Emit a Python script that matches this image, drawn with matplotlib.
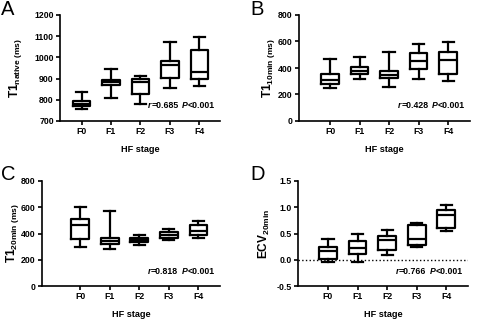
import matplotlib
matplotlib.use('Agg')
from matplotlib import pyplot as plt
from matplotlib import ticker
from matplotlib import transforms

plt.rcParams['font.family'] = ['Liberation Sans', 'DejaVu Sans']
plt.rcParams['mathtext.fontset'] = 'custom'
plt.rcParams['mathtext.rm'] = 'Liberation Sans'
plt.rcParams['mathtext.bf'] = 'Liberation Sans:bold'
plt.rcParams['mathtext.it'] = 'Liberation Sans:italic'

stages = ['F0', 'F1', 'F2', 'F3', 'F4']

# box stats per stage: low whisker, q1, median, q3, high whisker
t1_native_lo = [757, 810, 782, 856, 867]
t1_native_q1 = [769, 869, 829, 905, 896]
t1_native_med = [782, 884, 884, 963, 932]
t1_native_q3 = [795, 892, 897, 984, 1037]
t1_native_hi = [835, 944, 911, 1072, 1094]

t1_10min_lo = [250, 316, 260, 316, 303]
t1_10min_q1 = [283, 358, 321, 394, 353]
t1_10min_med = [308, 379, 346, 452, 459]
t1_10min_q3 = [353, 409, 379, 510, 520]
t1_10min_hi = [467, 485, 517, 583, 593]

t1_20min_lo = [300, 280, 312, 352, 367]
t1_20min_q1 = [358, 318, 333, 362, 387]
t1_20min_med = [465, 343, 350, 392, 420]
t1_20min_q3 = [510, 363, 368, 413, 463]
t1_20min_hi = [600, 574, 389, 438, 494]

ecv_lo = [-0.05, -0.05, 0.095, 0.247, 0.544]
ecv_q1 = [0.013, 0.101, 0.190, 0.278, 0.614]
ecv_med = [0.165, 0.222, 0.367, 0.399, 0.848]
ecv_q3 = [0.234, 0.361, 0.443, 0.671, 0.943]
ecv_hi = [0.392, 0.481, 0.576, 0.709, 1.038]

r_values = ['0.685', '0.428', '0.818', '0.766']
p_text = '<0.001'

W, H = 496, 325
fig = plt.figure(figsize=(W / 100, H / 100), dpi=100)


def make_stats(lo, q1, med, q3, hi):
    stats = []
    for i in range(len(stages)):
        stats.append({'whislo': lo[i], 'q1': q1[i], 'med': med[i],
                      'q3': q3[i], 'whishi': hi[i], 'fliers': [],
                      'label': stages[i]})
    return stats


# (left, right, top, bottom) in pixels, xlim, ylim, ticks, label, label x, data, r
panels = [
    ((60, 220, 15, 121), (-0.73, 4.7), (700, 1200), range(700, 1201, 100),
     r'$\mathbf{T1_{native\ (ms)}}$', 24,
     make_stats(t1_native_lo, t1_native_q1, t1_native_med, t1_native_q3, t1_native_hi),
     r_values[0], 'A', (1, 0)),
    ((299, 470, 15, 121), (-1.05, 4.74), (0, 800), range(0, 801, 200),
     r'$\mathbf{T1_{10min\ (ms)}}$', 277,
     make_stats(t1_10min_lo, t1_10min_q1, t1_10min_med, t1_10min_q3, t1_10min_hi),
     r_values[1], 'B', (250, 0)),
    ((42, 220, 181, 286), (-1.29, 4.73), (0, 800), range(0, 801, 200),
     r'$\mathbf{T1_{20min\ (ms)}}$', 21,
     make_stats(t1_20min_lo, t1_20min_q1, t1_20min_med, t1_20min_q3, t1_20min_hi),
     r_values[2], 'C', (1, 165)),
    ((298, 468, 181, 286), (-1.01, 4.73), (-0.5, 1.5), [-0.5, 0.0, 0.5, 1.0, 1.5],
     r'$\mathbf{ECV_{20min}}$', 272,
     make_stats(ecv_lo, ecv_q1, ecv_med, ecv_q3, ecv_hi),
     r_values[3], 'D', (250, 165)),
]

lw = 1.6
for box, xlim, ylim, yticks, ylabel, label_x, stats, r, letter, letter_pos in panels:
    left, right, top, bottom = box
    ax = fig.add_axes([left / W, 1 - bottom / H, (right - left) / W, (bottom - top) / H])

    ax.bxp(stats, positions=range(len(stages)), widths=0.6, capwidths=0.38,
           showfliers=False,
           boxprops=dict(color='black', linewidth=lw),
           whiskerprops=dict(color='black', linewidth=lw),
           capprops=dict(color='black', linewidth=lw),
           medianprops=dict(color='black', linewidth=lw))

    if letter == 'D':
        ax.axhline(0, color='black', linestyle=':', linewidth=1.0, zorder=0)

    ax.set_xlim(xlim)
    ax.set_ylim(ylim)
    ax.set_yticks(list(yticks))
    if letter == 'D':
        ax.yaxis.set_major_formatter(ticker.FormatStrFormatter('%.1f'))
    ax.set_xticks(range(len(stages)), labels=stages)

    for side in ['top', 'right']:
        ax.spines[side].set_visible(False)
    for side in ['left', 'bottom']:
        ax.spines[side].set_linewidth(1.2)
    ax.tick_params(direction='out', length=3, width=1.2, labelsize=6.3, pad=1.5)
    for lab in ax.get_xticklabels() + ax.get_yticklabels():
        lab.set_fontweight('bold')

    ax.set_xlabel('HF stage', fontsize=6.6, fontweight='bold', labelpad=6)
    ax.set_ylabel(ylabel, fontsize=8.6)
    ax.yaxis.set_label_coords(label_x / W, 0.5,
                              transform=transforms.blended_transform_factory(fig.transFigure, ax.transAxes))

    # r=... P<0.001, built right to left
    t4 = ax.text(0.97, 0.1, p_text, transform=ax.transAxes, ha='right', va='bottom',
                 fontsize=6.3, fontweight='bold')
    t3 = ax.annotate('P', xy=(0, 0), xycoords=t4, ha='right', va='bottom',
                     fontsize=6.3, fontweight='bold', fontstyle='italic')
    t2 = ax.annotate('=' + r, xy=(0, 0), xycoords=t3, xytext=(-2.5, 0),
                     textcoords='offset points', ha='right', va='bottom',
                     fontsize=6.3, fontweight='bold')
    ax.annotate('r', xy=(0, 0), xycoords=t2, ha='right', va='bottom',
                fontsize=6.3, fontweight='bold', fontstyle='italic')

    fig.text(letter_pos[0] / W, 1 - letter_pos[1] / H, letter, fontsize=14.5,
             ha='left', va='top')

fig.savefig('out.png', dpi=100)
